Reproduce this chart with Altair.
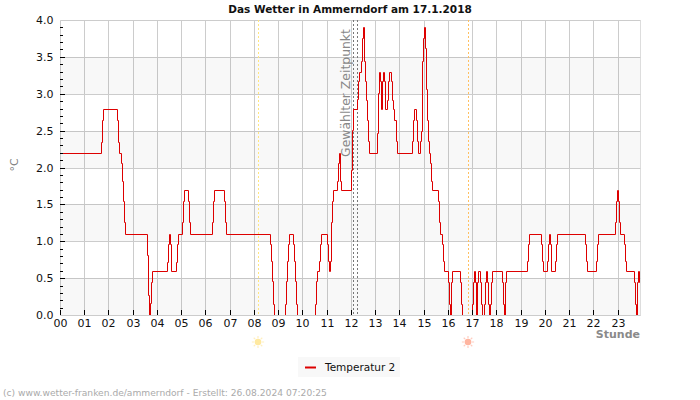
import altair as alt
import pandas as pd

# Temperature readings: index of the 2.5-minute reading at which the value changes, and the new value
change_slot = [
    0, 41, 42, 43, 56, 57, 58, 60, 61, 62, 63, 64, 86, 87, 88, 89, 90, 91,
    106, 107, 108, 109, 110, 115, 116, 117, 121, 122, 123, 127, 128, 129,
    150, 151, 152, 162, 163, 164, 208, 209, 210, 211, 212,
    223, 224, 225, 226, 227, 231, 232, 233, 234, 235,
    252, 253, 254, 256, 257, 258, 264, 265, 266, 267, 268, 269, 270,
    274, 275, 276, 277, 278, 288, 289, 290, 294, 295, 296, 298, 299, 300,
    301, 302, 303, 304, 305, 306, 314, 315, 316, 317, 318, 319, 320, 321,
    322, 324, 325, 326, 328, 329, 330, 331, 333, 334, 348, 349, 350, 352,
    353, 354, 356, 357, 358, 359, 360, 361, 362, 363, 364, 365, 366, 367,
    368, 374, 375, 376, 378, 379, 380, 384, 385, 386, 387, 388, 396, 397,
    398, 408, 409, 410, 411, 412, 413, 414, 416, 417, 418, 420, 421, 422,
    423, 424, 425, 426, 427, 428, 437, 438, 439, 440, 441, 462, 463, 464,
    476, 477, 478, 482, 483, 484, 485, 486, 490, 491, 492, 520, 521, 522,
    531, 532, 533, 549, 550, 551, 552, 553, 554, 558, 559, 560, 568, 569,
    570, 571, 572, 573, 574,
]
temperature = [
    2.2, 2.35, 2.65, 2.79, 2.65, 2.35, 2.2, 2.06, 1.82, 1.55, 1.256, 1.098,
    0.818, 0.276, -0.15, 0.163, 0.447, 0.6,
    0.72, 0.967, 1.098, 0.967, 0.6, 0.72, 0.967, 1.098, 1.256, 1.55, 1.695,
    1.55, 1.256, 1.098, 1.256, 1.55, 1.695, 1.55, 1.256, 1.098,
    0.967, 0.728, 0.456, 0.154, -0.15,
    0.154, 0.456, 0.728, 0.967, 1.098, 0.967, 0.728, 0.456, 0.154, -0.15,
    0.154, 0.456, 0.6, 0.728, 0.967, 1.098, 0.967, 0.728, 0.6, 0.728, 1.256,
    1.55, 1.695,
    1.82, 2.06, 2.2, 1.82, 1.695, 1.97, 2.51, 2.79, 2.93, 3.17, 3.295, 3.45,
    3.75, 3.905,
    3.45, 3.17, 2.92, 2.65, 2.355, 2.2, 2.47, 3.01, 3.295, 3.17, 2.79, 3.17,
    3.295, 3.17,
    2.79, 2.92, 3.17, 3.295, 3.17, 2.92, 2.79, 2.65, 2.355, 2.2, 2.355, 2.65,
    2.79, 2.65,
    2.355, 2.2, 2.355, 2.49, 3.45, 3.75, 3.905, 3.62, 3.07, 2.65, 2.355, 2.2,
    2.06, 1.82,
    1.695, 1.55, 1.256, 1.098, 0.967, 0.728, 0.6, 0.447, 0.154, -0.15, 0.447,
    0.6, 0.447, 0.154,
    -0.15, 0.154, 0.447, 0.6, 0.447, -0.15, 0.447, 0.6, 0.447, 0.154, -0.15,
    0.154, 0.447, 0.6,
    0.447, 0.154, -0.15, 0.154, 0.447, 0.6, 0.447, 0.154, -0.15, 0.447, 0.6,
    0.728, 0.967, 1.098,
    0.967, 0.728, 0.6, 0.728, 0.967, 1.098, 0.967, 0.6, 0.728, 0.967, 1.098,
    0.967, 0.728, 0.6,
    0.728, 0.967, 1.098, 1.256, 1.55, 1.695, 1.55, 1.256, 1.098, 0.967, 0.728,
    0.6, 0.447, 0.154,
    -0.15, 0.447, 0.6, 0.447, 0.154,
]

hour_ticks = list(range(24))
value_ticks = [0, 0.5, 1, 1.5, 2, 2.5, 3, 3.5, 4]
minor_ticks = [round(i * 0.1, 1) for i in range(1, 40) if i % 5]
major_ticks = [0.5, 1, 1.5, 2, 2.5, 3, 3.5]
band_low = [0, 1, 2, 3]
band_high = [0.5, 1.5, 2.5, 3.5]

sun_hours = [8.15, 16.82]
sun_colors = ["#ffe9a0", "#ffb5a0"]
ray_colors = ["#ffefc0", "#ffcdc0"]
line_colors = ["#ffe680", "#ffc060"]
selected_hours = [12.07, 12.24]

X_END = 23.92
WIDTH, HEIGHT = 580, 295
GRID = "#cccccc"
SERIES = "Temperatur 2"
RAYS = ("M0,-1L0,-0.62M0,1L0,0.62M-1,0L-0.62,0M1,0L0.62,0"
        "M-0.7,-0.7L-0.46,-0.46M0.7,-0.7L0.46,-0.46"
        "M-0.7,0.7L-0.46,0.46M0.7,0.7L0.46,0.46")

readings = pd.DataFrame({
    "hour": [s / 24 for s in change_slot] + [X_END],
    "value": temperature + [temperature[-1]],
    "series": SERIES,
})
bands = pd.DataFrame({"low": band_low, "high": band_high})
hours = pd.DataFrame({"hour": hour_ticks})
suns = pd.DataFrame({"hour": sun_hours, "fill": sun_colors, "ray": ray_colors, "line": line_colors})
selected = pd.DataFrame({"hour": selected_hours})

x_scale = alt.Scale(domain=[0, X_END], nice=False, zero=False, round=True)
y_scale = alt.Scale(domain=[0, 4], nice=False, round=True)

x_axis = alt.Axis(
    values=hour_ticks, labelExpr="(datum.value < 10 ? '0' : '') + datum.value",
    title=None, grid=True, gridColor=GRID, gridWidth=1, ticks=False, domain=False,
    labelFont="DejaVu Sans", labelFontSize=11, labelColor="#111111",
    labelPadding=2, labelFlush=False, labelOverlap=False,
)
y_axis = alt.Axis(
    values=value_ticks, format=".1f", title=None, grid=True, gridColor=GRID,
    gridWidth=1, ticks=False, domain=False, labelFont="DejaVu Sans",
    labelFontSize=11, labelColor="#111111", labelPadding=7, labelFlush=False,
    labelOverlap=False,
)
X = alt.X("hour:Q", scale=x_scale, axis=x_axis)

# Translucent bands so the grid stays visible through them
band_layer = alt.Chart(bands).mark_rect(color="black", opacity=0.027).encode(
    y=alt.Y("low:Q", scale=y_scale, axis=y_axis),
    y2="high:Q",
)
hour_tick_layer = alt.Chart(hours).mark_rule(color="black", xOffset=0.5).encode(
    x=X,
    y=alt.value(HEIGHT - 5),
    y2=alt.value(HEIGHT),
)
minor_layer = alt.Chart(pd.DataFrame({"v": minor_ticks})).mark_rule(color="black", yOffset=0.5).encode(
    y=alt.Y("v:Q", scale=y_scale, axis=y_axis),
    x=alt.value(0),
    x2=alt.value(3),
)
major_layer = alt.Chart(pd.DataFrame({"v": major_ticks})).mark_rule(color="black", yOffset=0.5).encode(
    y=alt.Y("v:Q", scale=y_scale, axis=y_axis),
    x=alt.value(0),
    x2=alt.value(5),
)
sun_lines = alt.Chart(suns).mark_rule(strokeDash=[2, 2], xOffset=0.5).encode(
    x=X,
    color=alt.Color("line:N", scale=None, legend=None),
)
selected_lines = alt.Chart(selected).mark_rule(color="#777777", strokeDash=[2, 2], xOffset=0.5).encode(
    x=X,
)
selected_label = alt.Chart(pd.DataFrame({"t": ["Gewählter Zeitpunkt"]})).mark_text(
    font="DejaVu Sans", fontSize=12.4, color="#888888", angle=270, baseline="middle",
).encode(
    text="t:N", x=alt.value(286), y=alt.value(73),
)
temp_line = alt.Chart(readings).mark_line(
    interpolate="step-after", strokeWidth=1, clip=True, xOffset=0.5, yOffset=0.5,
).encode(
    x=X,
    y=alt.Y("value:Q", scale=y_scale, axis=y_axis),
    order="hour:Q",
    color=alt.Color(
        "series:N",
        scale=alt.Scale(domain=[SERIES], range=["#dd0000"]),
        legend=alt.Legend(
            orient="none", legendX=238, legendY=337, title=None,
            fillColor="#f8f8f8", padding=4, symbolType="stroke",
            symbolStrokeWidth=2, symbolSize=120, labelFont="DejaVu Sans",
            labelFontSize=10.5, labelColor="#111111", labelOffset=8,
            symbolOffset=2,
        ),
    ),
)
sun_discs = alt.Chart(suns).mark_point(filled=True, size=44, opacity=1).encode(
    x=X,
    y=alt.value(322),
    color=alt.Color("fill:N", scale=None, legend=None),
)
sun_rays = alt.Chart(suns).mark_point(shape=RAYS, size=150, filled=False, strokeWidth=1.2, opacity=1).encode(
    x=X,
    y=alt.value(322),
    color=alt.Color("ray:N", scale=None, legend=None),
)


def caption(text, x, y, **style):
    return alt.Chart(pd.DataFrame({"t": [text]})).mark_text(**style).encode(
        text="t:N", x=alt.value(x), y=alt.value(y),
    )


title_text = caption("Das Wetter in Ammerndorf am 17.1.2018", 290, -10.5,
                     font="DejaVu Sans", fontSize=10.5, fontWeight="bold",
                     color="#111111", baseline="middle")
unit_text = caption("°C", -45, 145, font="DejaVu Sans", fontSize=11, color="#808080",
                    angle=270, baseline="middle")
hour_text = caption("Stunde", 580, 315, font="DejaVu Sans", fontSize=11, fontWeight="bold",
                    color="#8a8a8a", align="right", baseline="middle")
footer_text = caption("(c) www.wetter-franken.de/ammerndorf - Erstellt: 26.08.2024 07:20:25",
                      -57, 373, font="DejaVu Sans", fontSize=9.15, color="#aaaaaa",
                      align="left", baseline="middle")

chart = alt.layer(
    band_layer, sun_lines, selected_lines, selected_label, temp_line,
    hour_tick_layer, minor_layer, major_layer, sun_rays, sun_discs,
    title_text, unit_text, hour_text, footer_text,
).resolve_scale(color="independent").properties(
    width=WIDTH, height=HEIGHT,
    padding={"left": 60, "top": 20, "right": 60, "bottom": 85},
    autosize=alt.AutoSizeParams(type="none"),
).configure_view(stroke=GRID).configure(background="white")

chart.save("out.html", embed_options={"renderer": "svg", "actions": False})
